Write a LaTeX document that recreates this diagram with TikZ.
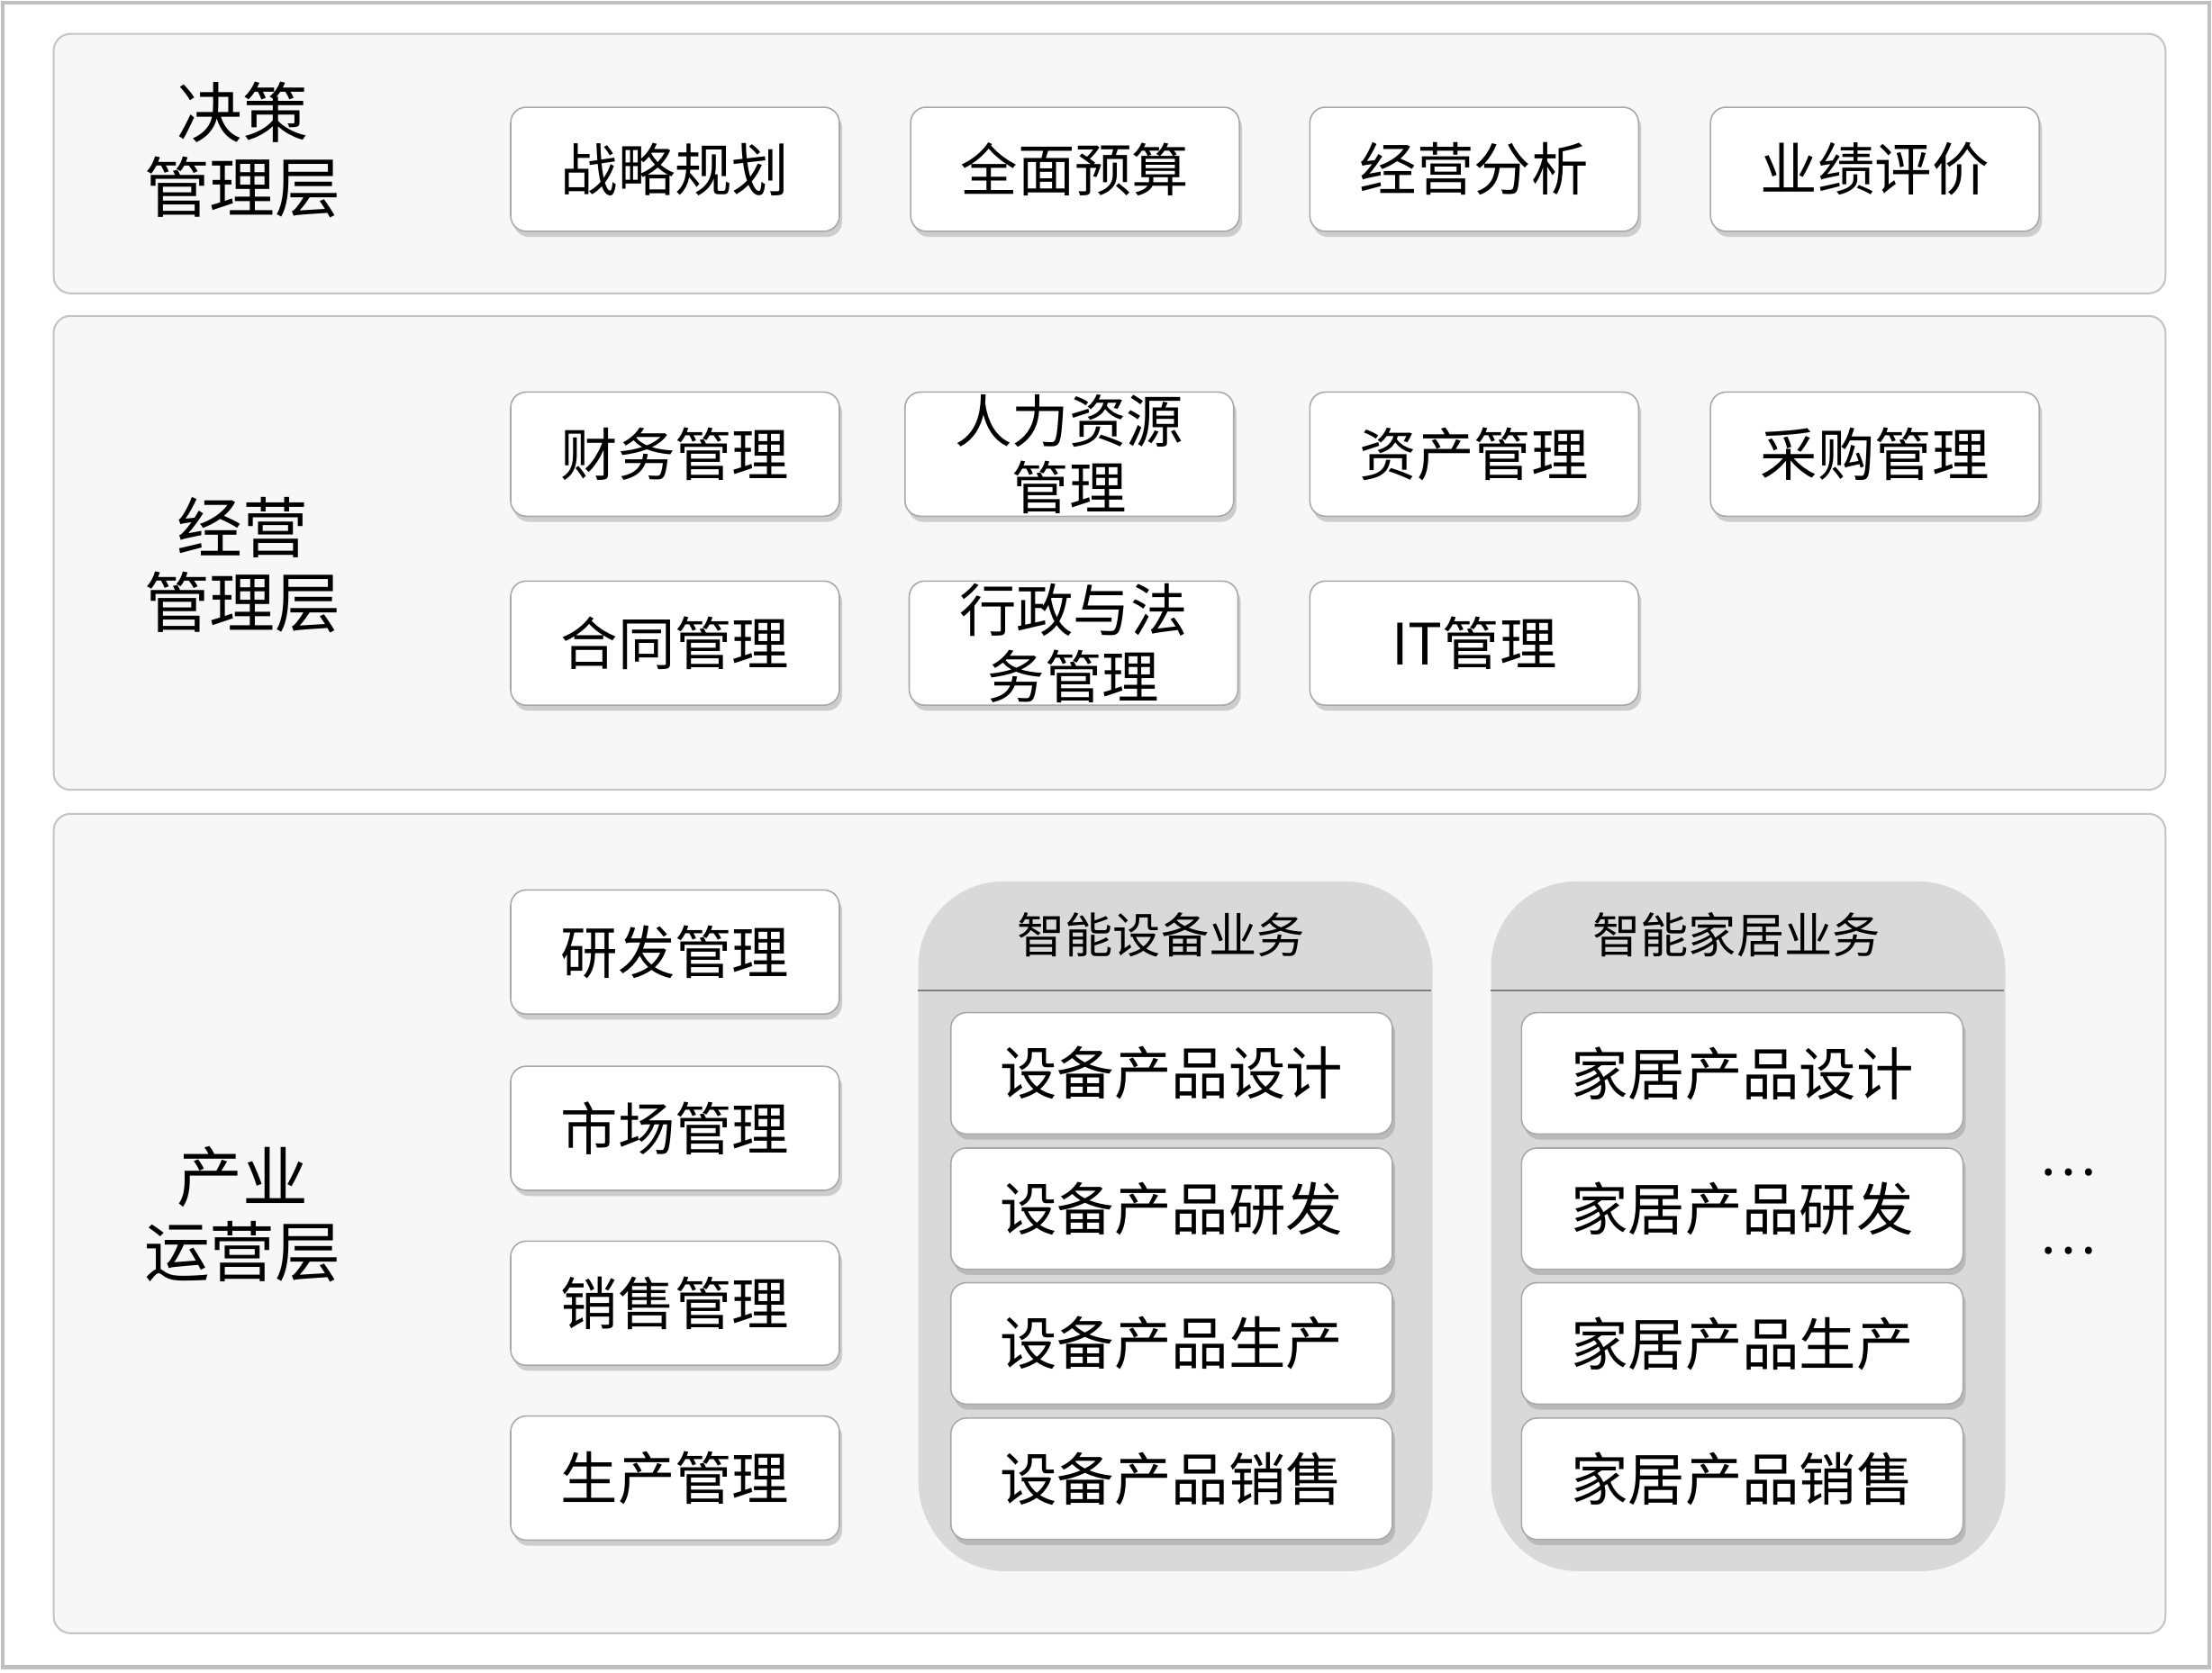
\documentclass[tikz,border=0pt]{standalone}
\usepackage{fontspec}
\setmainfont{Noto Sans CJK SC}
\usetikzlibrary{shadows}
\definecolor{panelfill}{HTML}{F7F7F7}
\definecolor{paneldraw}{HTML}{C4C4C4}
\definecolor{boxdraw}{HTML}{A8A8A8}
\definecolor{groupfill}{HTML}{D9D9D9}
\definecolor{groupline}{HTML}{7F7F7F}

\begin{document}
\begin{tikzpicture}[x=1pt,y=-1pt,
	layer_box/.style={draw=paneldraw,fill=panelfill,rounded corners=12pt,line width=1.3pt,minimum width=1497pt,inner sep=0pt},
	layer_label/.style={font=\fontsize{46.5}{53}\selectfont,align=center},
	item_node/.style={draw=boxdraw,fill=white,rounded corners=11pt,line width=1pt,minimum width=233pt,minimum height=88pt,inner sep=0pt,font=\fontsize{40.5}{47}\selectfont,align=center,drop shadow={shadow xshift=2pt,shadow yshift=-4pt,opacity=0.35}},
	sub_node/.style={item_node,minimum width=313pt,minimum height=86pt},
	group_box/.style={fill=groupfill,rounded corners=60pt,minimum width=363pt,minimum height=486pt,inner sep=0pt,drop shadow={shadow xshift=1.5pt,shadow yshift=-3pt,opacity=0.25}},
	group_title/.style={font=\fontsize{34}{40}\selectfont}]
		
		\useasboundingbox (0,0) rectangle (1568,1186);
		\draw[line width=3pt,draw=black!25] (2,2) rectangle (1566,1182);
		
		\node[layer_box,minimum height=184pt] (L1) at (786.5,116) {};
		\node[layer_box,minimum height=336pt] (L2) at (786.5,392) {};
		\node[layer_box,minimum height=581pt] (L3) at (786.5,867.5) {};
		
		\node[layer_label] (l1) at (172,106) {决策\\管理层};
		\node[layer_label] (l2) at (172,401) {经营\\管理层};
		\node[layer_label] (l3) at (172,861) {产业\\运营层};
		
		\node[item_node] (d1) at (478.5,120) {战略规划};
		\node[item_node] (d2) at (762,120) {全面预算};
		\node[item_node] (d3) at (1045,120) {经营分析};
		\node[item_node] (d4) at (1329,120) {业绩评价};
		
		\node[item_node] (m1) at (478.5,322) {财务管理};
		\node[item_node] (m2) at (758,322) {人力资源\\管理};
		\node[item_node] (m3) at (1045,322) {资产管理};
		\node[item_node] (m4) at (1329,322) {采购管理};
		\node[item_node] (m5) at (478.5,456) {合同管理};
		\node[item_node] (m6) at (761,456) {行政与法\\务管理};
		\node[item_node] (m7) at (1045,456) {IT管理};
		
		\node[item_node] (o1) at (478.5,675) {研发管理};
		\node[item_node] (o2) at (478.5,800) {市场管理};
		\node[item_node] (o3) at (478.5,924) {销售管理};
		\node[item_node] (o4) at (478.5,1048) {生产管理};
		
		\node[group_box] (g1) at (832.5,868) {};
		\node[group_title] (g1t) at (823,663) {智能设备业务};
		\coordinate (g1s) at (832.5,702);
		\draw[groupline,line width=1.3pt] (g1s -| g1.west) -- (g1s -| g1.east);
		\node[sub_node] (e1) at (830.5,761) {设备产品设计};
		\node[sub_node] (e2) at (830.5,857) {设备产品研发};
		\node[sub_node] (e3) at (830.5,952.5) {设备产品生产};
		\node[sub_node] (e4) at (830.5,1048.5) {设备产品销售};
		
		\node[group_box] (g2) at (1238.5,868) {};
		\node[group_title] (g2t) at (1231,663) {智能家居业务};
		\coordinate (g2s) at (1238.5,702);
		\draw[groupline,line width=1.3pt] (g2s -| g2.west) -- (g2s -| g2.east);
		\node[sub_node] (h1) at (1235,761) {家居产品设计};
		\node[sub_node] (h2) at (1235,857) {家居产品研发};
		\node[sub_node] (h3) at (1235,952.5) {家居产品生产};
		\node[sub_node] (h4) at (1235,1048.5) {家居产品销售};
		
		\node[font=\fontsize{38}{40}\selectfont] (x1) at (1466,831) {…};
		\node[font=\fontsize{38}{40}\selectfont] (x2) at (1466,887) {…};
		\end{tikzpicture}
\end{document}
